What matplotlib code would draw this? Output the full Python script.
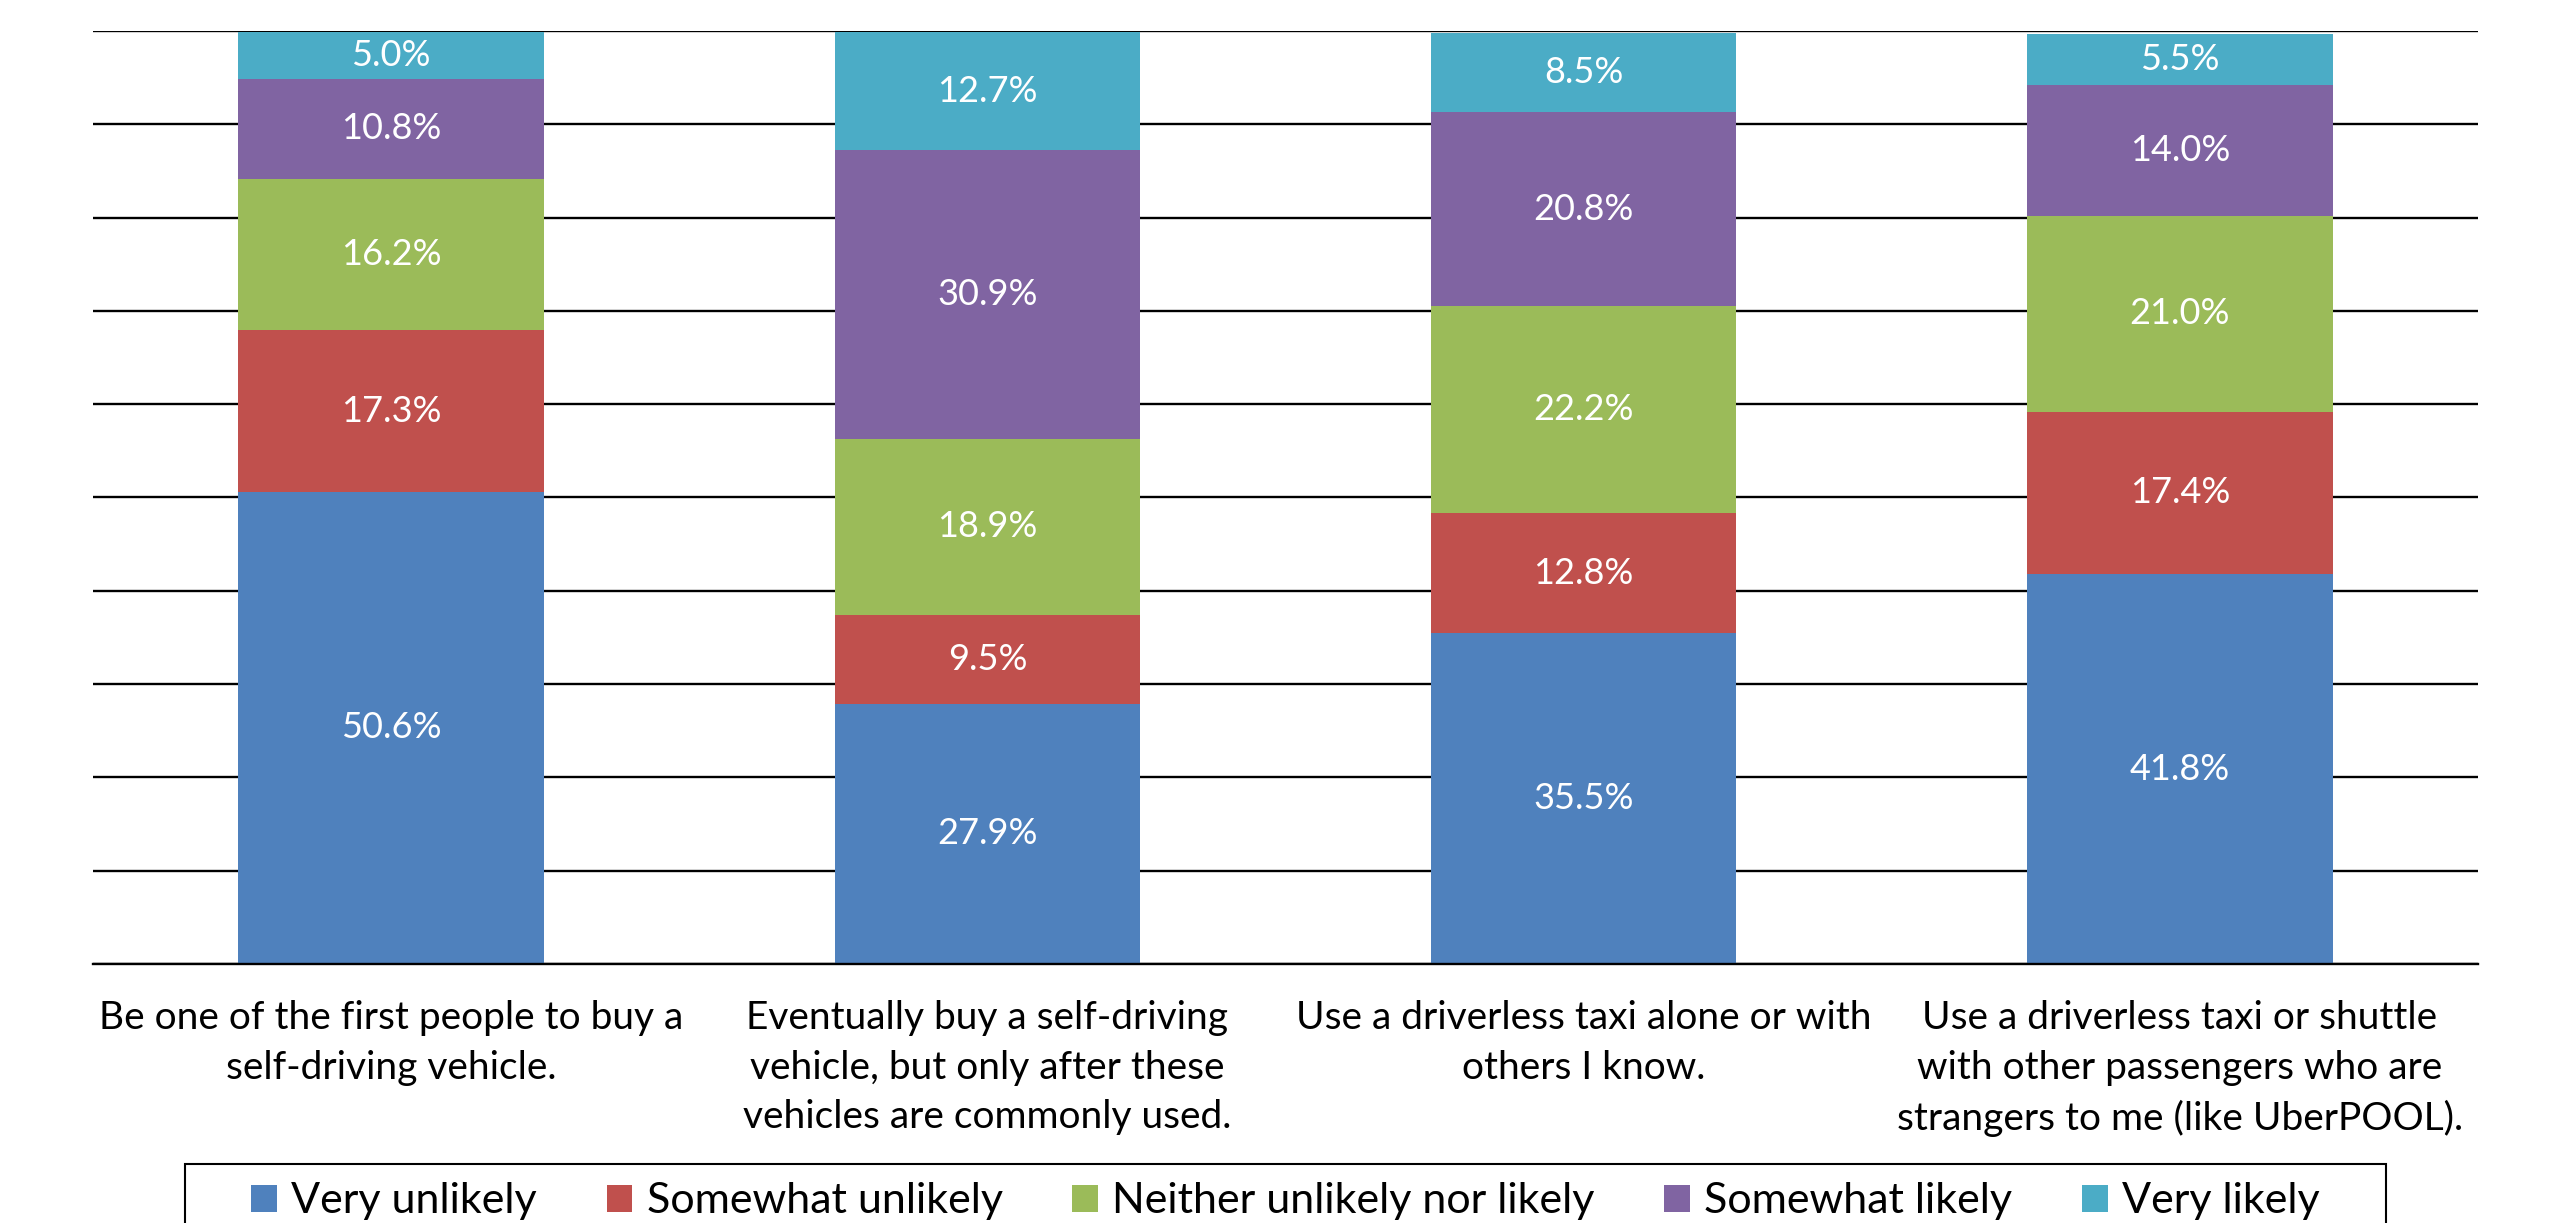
import matplotlib
matplotlib.use("Agg")
import matplotlib.pyplot as plt
from matplotlib.patches import Rectangle
import numpy as np

plt.rcParams['font.family'] = ['Lato', 'DejaVu Sans']

categories = [
    "Be one of the first people to buy a\nself-driving vehicle.",
    "Eventually buy a self-driving\nvehicle, but only after these\nvehicles are commonly used.",
    "Use a driverless taxi alone or with\nothers I know.",
    "Use a driverless taxi or shuttle\nwith other passengers who are\nstrangers to me (like UberPOOL).",
]
series_names = ["Very unlikely", "Somewhat unlikely", "Neither unlikely nor likely",
                "Somewhat likely", "Very likely"]
very_unlikely = [50.6, 27.9, 35.5, 41.8]
somewhat_unlikely = [17.3, 9.5, 12.8, 17.4]
neither = [16.2, 18.9, 22.2, 21.0]
somewhat_likely = [10.8, 30.9, 20.8, 14.0]
very_likely = [5.0, 12.7, 8.5, 5.5]
series_values = [very_unlikely, somewhat_unlikely, neither, somewhat_likely, very_likely]
colors = ["#4F81BD", "#C0504D", "#9BBB59", "#8064A2", "#4BACC6"]

W, H = 2570, 1223
fig = plt.figure(figsize=(W / 100, H / 100), dpi=100)
ax = fig.add_axes([93 / W, 1 - 964 / H, (2478 - 93) / W, (964 - 31) / H])

x = np.arange(len(categories))
bottom = np.zeros(len(categories))
handles = []
for name, vals, col in zip(series_names, series_values, colors):
    vals = np.array(vals)
    bars = ax.bar(x, vals, width=0.512, bottom=bottom, color=col, label=name, zorder=3)
    handles.append(bars)
    for xi, b, v in zip(x, bottom, vals):
        ax.text(xi, b + v / 2, f"{v:.1f}%", ha="center", va="center",
                color="white", fontsize=26, zorder=4)
    bottom += vals

ax.set_xlim(-0.5, len(categories) - 0.5)
ax.set_ylim(0, 100)
ax.set_yticks(np.arange(0, 101, 10))
ax.set_yticklabels([])
ax.tick_params(axis="y", length=0)
ax.tick_params(axis="x", length=0, pad=26)
ax.set_xticks(x)
ax.set_xticklabels(categories, fontsize=28, linespacing=1.47)
ax.grid(axis="y", color="black", linewidth=1.7, zorder=0)
ax.set_axisbelow(True)
for s in ["left", "right", "top"]:
    ax.spines[s].set_visible(False)
ax.spines["bottom"].set_linewidth(1.7)
ax.spines["bottom"].set_zorder(5)

leg = fig.legend(handles=handles, labels=series_names, loc="upper center",
                 bbox_to_anchor=(1285.5 / W, 1 - 1163 / H), ncol=5, fontsize=31,
                 frameon=False,
                 handlelength=0.6, handleheight=0.6, handletextpad=0.33,
                 columnspacing=1.62, borderpad=0.45, borderaxespad=0)

# legend frame box (extends past the bottom edge as in the reference)
frame = Rectangle((185 / W, -0.05), (2386 - 185) / W, (1 - 1164 / H) + 0.05,
                  transform=fig.transFigure, fill=False, edgecolor="black",
                  linewidth=1.5)
fig.patches.append(frame)

fig.savefig("out.png", dpi=100)
